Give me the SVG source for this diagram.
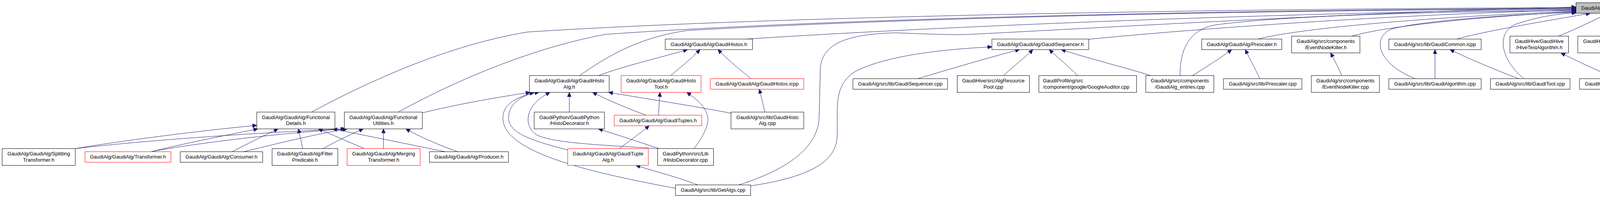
<svg xmlns="http://www.w3.org/2000/svg" width="6889" height="507" viewBox="0 0 6889 507">
<style>
.nd rect{fill:#fff;stroke:#000;stroke-width:1}
.rd rect{fill:#fff;stroke:#f00;stroke-width:1}
.mn rect{fill:#bfbfbf;stroke:#000;stroke-width:1}
text{font-family:"Liberation Sans",Arial,Helvetica,sans-serif;font-size:13px;fill:#000;text-anchor:middle}
text.l{text-anchor:start}
#edges path{fill:none;stroke:#191970;stroke-width:1;marker-end:url(#ah)}
</style>
<defs>
<marker id="ah" markerUnits="userSpaceOnUse" markerWidth="11" markerHeight="10" refX="11" refY="5" orient="auto" viewBox="0 0 11 10"><path d="M0,0 L11,5 L0,10 z" fill="#191970" stroke="#191970" stroke-width="1"/></marker>
</defs>
<rect x="0" y="0" width="6889" height="507" fill="#fff"/>
<g id="edges">
<path d="M1891,473.5 C2030,430 2095,370 2097,300 L2100,175 C2105,115 2160,88 2290,84 C2400,88 2450,90 2480,88 C2700,78 3500,30 4034.5,18"/>
<path d="M797.5,287 C950,205 1150,115 1350,82 C2000,40 3200,22 4034.5,19.5"/>
<path d="M1019.5,287 C1150,215 1350,125 1550,88 C2200,42 3300,25 4034.5,21"/>
<path d="M1484,193.5 C1560,140 1640,95 1760,78 C2400,42 3300,26 4034.5,22.5"/>
<path d="M1910,100 C2500,62 3400,30 4034.5,24"/>
<path d="M2787,100.5 C3100,70 3600,36 4034.5,25.5"/>
<path d="M3021,193.5 C3020,120 3050,75 3110,64 C3300,38 3700,30 4034.5,27"/>
<path d="M3220,100 C3350,68 3700,42 4034.5,28.5"/>
<path d="M3461,92.5 C3550,66 3800,42 4034.5,30"/>
<path d="M3623,201.5 C3530,165 3510,100 3560,75 C3650,50 3900,36 4034.5,31.5"/>
<path d="M3901,201.5 C3840,150 3830,85 3880,62 C3940,42 3990,35 4034.5,33"/>
<path d="M3729,100 C3800,80 3950,55 4071,34"/>
<path d="M3990,92.5 C4040,72 4080,52 4117,34"/>
<path d="M4155,92.5 L4155,34"/>
<path d="M4334,92.5 C4300,75 4240,55 4195,34"/>
<path d="M4563,100 C4450,75 4330,52 4240,34"/>
<path d="M4762,92.5 C4600,56 4420,38 4275.5,33"/>
<path d="M5033,100 C4800,56 4500,36 4275.5,31.5"/>
<path d="M5259,92.5 C5000,50 4600,33 4275.5,30"/>
<path d="M5465,92.5 C5100,46 4600,31 4275.5,28.5"/>
<path d="M5659,92.5 C5200,43 4700,29 4275.5,27"/>
<path d="M5902,100 C5400,46 4800,28 4275.5,25.5"/>
<path d="M6125,92.5 C5500,42 4900,27 4275.5,24"/>
<path d="M6317.5,85 C5700,42 5000,25 4275.5,22.5"/>
<path d="M6486.5,85 C5800,40 5000,23 4275.5,21"/>
<path d="M6728,92.5 C6300,52 5100,22 4275.5,18"/>
<path d="M6719,193.5 C6690,120 6660,80 6566,67 C6000,40 5000,22 4275.5,19.5"/>
<path d="M1532,193.5 C1600,168 1700,145 1760,127"/>
<path d="M1717,193.5 C1745,170 1770,150 1792,127"/>
<path d="M1922.7,201.5 C1890,175 1860,150 1838,127"/>
<path d="M1457.4,287 L1457.4,236.5"/>
<path d="M1687.5,380.5 C1640,365 1580,345 1532,330"/>
<path d="M1776.6,380.5 C1800,350 1815,320 1812,300 C1808,278 1790,258 1758,236.5"/>
<path d="M1683.5,380.5 C1560,372 1420,368 1375,346 C1340,325 1340,270 1408,236.5"/>
<path d="M1654,295 C1600,275 1560,258 1517,236.5"/>
<path d="M1685.6,295 L1689.5,236.5"/>
<path d="M1585.7,380.5 C1610,362 1640,340 1662,322"/>
<path d="M1453.5,384 C1360,360 1300,340 1302,300 C1303,270 1325,250 1367,236.5"/>
<path d="M1729.2,482 C1500,440 1300,390 1288,310 C1282,270 1320,245 1380,236.5"/>
<path d="M1786,473.5 C1740,455 1680,440 1628,423.5"/>
<path d="M1921.6,476 C2060,455 2140,420 2143,350 C2146,280 2130,215 2195,180 C2280,140 2420,126 2539.3,120"/>
<path d="M1957.8,287 C1953,265 1949,248 1944,228.5"/>
<path d="M1871.3,290 C1780,272 1650,252 1558,236.5"/>
<path d="M2350,201.5 C2420,180 2540,145 2610,127"/>
<path d="M2568.5,193.5 C2600,165 2630,142 2644,127"/>
<path d="M2759,193.5 C2730,165 2705,145 2686,127"/>
<path d="M2946,193.5 C2870,170 2780,148 2717,127"/>
<path d="M3053,193.5 C3090,170 3130,145 3153,127"/>
<path d="M3225.6,201.5 C3210,170 3198,148 3188,127"/>
<path d="M3434.8,193.5 C3425,170 3415,152 3406.5,135.5"/>
<path d="M3673.6,201.5 L3673.6,127"/>
<path d="M3888,201.5 C3830,180 3760,150 3712,127"/>
<path d="M4136,201.5 C4090,180 4040,158 3996,135.5"/>
<path d="M4400,193.5 L4393,135.5"/>
<path d="M4627.7,201.5 L4613.6,127"/>
<path d="M5524.5,193.5 L5524.5,135.5"/>
<path d="M6743.7,193.5 L6780,135.5"/>
<path d="M192.7,380.5 C300,362 500,336 657.3,321"/>
<path d="M192.7,380.5 C400,356 700,338 883,330"/>
<path d="M386.6,388.5 C460,370 560,350 660,330"/>
<path d="M386.6,388.5 C480,370 700,342 886,330"/>
<path d="M594,388.5 C630,370 680,345 712,330"/>
<path d="M623.6,388.5 C700,370 800,345 889,330"/>
<path d="M775,380.5 L764,330"/>
<path d="M827,380.5 C860,362 900,343 930,330"/>
<path d="M932.5,380.5 C890,362 850,345 815,330"/>
<path d="M981.7,380.5 L981.7,330"/>
<path d="M1139.7,388.5 C1050,370 950,350 852,330"/>
<path d="M1171,388.5 C1120,370 1070,348 1039,330"/>
<path d="M1081,289 C1180,265 1280,248 1357,236.5"/>
</g>
<g id="n_main" class="mn"><rect x="4034.5" y="7" width="241" height="27"/><text x="4155" y="24.5">GaudiAlg/GaudiAlg/GaudiAlgorithm.h</text></g>
<g id="n_gaudihistos_h" class="nd"><rect x="1703" y="100" width="223.5" height="27"/><text x="1814.75" y="117.5">GaudiAlg/GaudiAlg/GaudiHistos.h</text></g>
<g id="n_gaudisequencer_h" class="nd"><rect x="2539.3" y="100" width="247.8" height="27"/><text x="2663.2" y="117.5">GaudiAlg/GaudiAlg/GaudiSequencer.h</text></g>
<g id="n_prescaler_h" class="nd"><rect x="3076.4" y="100" width="204.9" height="27"/><text x="3178.85" y="117.5">GaudiAlg/GaudiAlg/Prescaler.h</text></g>
<g id="n_eventnodekiller_h" class="nd"><rect x="3306.5" y="92.5" width="174.9" height="43"/><text x="3393.95" y="110">GaudiAlg/src/components</text><text x="3393.95" y="125.5">/EventNodeKiller.h</text></g>
<g id="n_gaudicommon_icpp" class="nd"><rect x="3555.4" y="100" width="236.4" height="27"/><text x="3673.6" y="117.5">GaudiAlg/src/lib/GaudiCommon.icpp</text></g>
<g id="n_hivetestalgorithm_h" class="nd"><rect x="3865.4" y="92.5" width="150.1" height="43"/><text x="3940.45" y="110">GaudiHive/GaudiHive</text><text x="3940.45" y="125.5">/HiveTestAlgorithm.h</text></g>
<g id="n_avalanche" class="nd"><rect x="4039.2" y="92.5" width="231.6" height="43"/><text x="4155" y="110">GaudiHive/src/AvalancheScheduler</text><text x="4155" y="125.5">Svc.cpp</text></g>
<g id="n_contexteventcounter_h" class="nd"><rect x="4294.4" y="92.5" width="188.3" height="43"/><text x="4388.55" y="110">GaudiHive/src/ContextEvent</text><text x="4388.55" y="125.5">Counter.h</text></g>
<g id="n_cpucruncher_h" class="nd"><rect x="4507.5" y="100" width="202.3" height="27"/><text x="4608.65" y="117.5">GaudiHive/src/CPUCruncher.h</text></g>
<g id="n_fetchdatafromfile" class="nd"><rect x="4734.2" y="92.5" width="201.3" height="43"/><text x="4834.85" y="110">GaudiHive/src/FetchDataFrom</text><text x="4834.85" y="125.5">File.cpp</text></g>
<g id="n_hivereadalgorithm" class="nd"><rect x="4959.5" y="100" width="250" height="27"/><text x="5084.5" y="117.5">GaudiHive/src/HiveReadAlgorithm.cpp</text></g>
<g id="n_ioboundalg" class="nd"><rect x="5233.2" y="92.5" width="182.4" height="43"/><text x="5324.4" y="110">GaudiHive/src/IOBoundAlg</text><text x="5324.4" y="125.5">SchedulerSvc.cpp</text></g>
<g id="n_recordoutputstream_h" class="rd"><rect x="5439.2" y="92.5" width="170.6" height="43"/><text x="5524.5" y="110">GaudiMP/src/component</text><text x="5524.5" y="125.5">/RecordOutputStream.h</text></g>
<g id="n_replayoutputstream_h" class="rd"><rect x="5633.4" y="92.5" width="169.1" height="43"/><text x="5717.95" y="110">GaudiMP/src/component</text><text x="5717.95" y="125.5">/ReplayOutputStream.h</text></g>
<g id="n_gaudiparallelizer_h" class="rd"><rect x="5826.5" y="100" width="244.1" height="27"/><text x="5948.55" y="117.5">GaudiMTTools/src/GaudiParallelizer.h</text></g>
<g id="n_intelprofile_h" class="rd"><rect x="6094.3" y="92.5" width="199.4" height="43"/><text class="l" x="6104.8" y="110">GaudiProfiling/src</text><text class="l" x="6104.8" y="125.5">/component/intel/IntelProfile.h</text></g>
<g id="n_jemallocprofile_h" class="rd"><rect x="6317.4" y="84.5" width="144.9" height="59"/><text class="l" x="6327.4" y="102">GaudiProfiling/src</text><text x="6389.85" y="117.5">/component/jemalloc</text><text x="6389.85" y="133">/JemallocProfile.h</text></g>
<g id="n_callgrindprofile_h" class="rd"><rect x="6486.3" y="84.5" width="143.4" height="59"/><text class="l" x="6497.7" y="102">GaudiProfiling/src</text><text x="6558" y="117.5">/component/valgrind</text><text x="6558" y="133">/CallgrindProfile.h</text></g>
<g id="n_algdecorators_h" class="nd"><rect x="6705.5" y="92.5" width="179.6" height="43"/><text x="6795.3" y="110">GaudiPython/GaudiPython</text><text x="6795.3" y="125.5">/AlgDecorators.h</text></g>
<g id="n_gaudihistoalg_h" class="nd"><rect x="1355.3" y="193.5" width="204.2" height="43"/><text x="1457.4" y="211">GaudiAlg/GaudiAlg/GaudiHisto</text><text x="1457.4" y="226.5">Alg.h</text></g>
<g id="n_gaudihistotool_h" class="rd"><rect x="1590.2" y="193.5" width="204.5" height="43"/><text x="1692.45" y="211">GaudiAlg/GaudiAlg/GaudiHisto</text><text x="1692.45" y="226.5">Tool.h</text></g>
<g id="n_gaudihistos_icpp" class="rd"><rect x="1818.4" y="201.5" width="239.3" height="27"/><text x="1938.05" y="219">GaudiAlg/GaudiAlg/GaudiHistos.icpp</text></g>
<g id="n_gaudisequencer_cpp" class="nd"><rect x="2183.5" y="201.5" width="242.2" height="27"/><text x="2304.6" y="219">GaudiAlg/src/lib/GaudiSequencer.cpp</text></g>
<g id="n_algresourcepool" class="nd"><rect x="2450.5" y="193.5" width="185" height="43"/><text x="2543" y="211">GaudiHive/src/AlgResource</text><text x="2543" y="226.5">Pool.cpp</text></g>
<g id="n_googleauditor" class="nd"><rect x="2659.5" y="193.5" width="250.1" height="43"/><text class="l" x="2670" y="211">GaudiProfiling/src</text><text class="l" x="2670" y="226.5">/component/google/GoogleAuditor.cpp</text></g>
<g id="n_gaudialg_entries" class="nd"><rect x="2933.2" y="193.5" width="174.3" height="43"/><text x="3020.35" y="211">GaudiAlg/src/components</text><text x="3020.35" y="226.5">/GaudiAlg_entries.cpp</text></g>
<g id="n_prescaler_cpp" class="nd"><rect x="3132.2" y="201.5" width="200.5" height="27"/><text x="3232.45" y="219">GaudiAlg/src/lib/Prescaler.cpp</text></g>
<g id="n_eventnodekiller_cpp" class="nd"><rect x="3357.1" y="193.5" width="174.2" height="43"/><text x="3444.2" y="211">GaudiAlg/src/components</text><text x="3444.2" y="226.5">/EventNodeKiller.cpp</text></g>
<g id="n_gaudialgorithm_cpp" class="nd"><rect x="3555.4" y="201.5" width="236.4" height="27"/><text x="3673.6" y="219">GaudiAlg/src/lib/GaudiAlgorithm.cpp</text></g>
<g id="n_gauditool_cpp" class="nd"><rect x="3815.4" y="201.5" width="203.8" height="27"/><text x="3917.3" y="219">GaudiAlg/src/lib/GaudiTool.cpp</text></g>
<g id="n_hivetestalgorithm_cpp" class="nd"><rect x="4043.3" y="201.5" width="242.3" height="27"/><text x="4164.45" y="219">GaudiHive/src/HiveTestAlgorithm.cpp</text></g>
<g id="n_contexteventcounter_cpp" class="nd"><rect x="4309.2" y="193.5" width="188.3" height="43"/><text x="4403.35" y="211">GaudiHive/src/ContextEvent</text><text x="4403.35" y="226.5">Counter.cpp</text></g>
<g id="n_cpucruncher_cpp" class="nd"><rect x="4521.6" y="201.5" width="216" height="27"/><text x="4629.6" y="219">GaudiHive/src/CPUCruncher.cpp</text></g>
<g id="n_recordoutputstream_cpp" class="nd"><rect x="5435.5" y="193.5" width="178" height="43"/><text x="5524.5" y="211">GaudiMP/src/component</text><text x="5524.5" y="226.5">/RecordOutputStream.cpp</text></g>
<g id="n_algdecorators_cpp" class="nd"><rect x="6659.3" y="193.5" width="143.3" height="43"/><text x="6730.95" y="211">GaudiPython/src/Lib</text><text x="6730.95" y="226.5">/AlgDecorators.cpp</text></g>
<g id="n_functionaldetails_h" class="nd"><rect x="657.3" y="287" width="200.1" height="43"/><text x="757.35" y="304.5">GaudiAlg/GaudiAlg/Functional</text><text x="757.35" y="320">Details.h</text></g>
<g id="n_functionalutilities_h" class="nd"><rect x="881.5" y="287" width="199.7" height="43"/><text x="981.35" y="304.5">GaudiAlg/GaudiAlg/Functional</text><text x="981.35" y="320">Utilities.h</text></g>
<g id="n_histodecorator_h" class="nd"><rect x="1367.5" y="287" width="179.8" height="43"/><text x="1457.4" y="304.5">GaudiPython/GaudiPython</text><text x="1457.4" y="320">/HistoDecorator.h</text></g>
<g id="n_gaudituples_h" class="rd"><rect x="1572.4" y="295" width="224.2" height="27"/><text x="1684.5" y="312.5">GaudiAlg/GaudiAlg/GaudiTuples.h</text></g>
<g id="n_gaudihistoalg_cpp" class="nd"><rect x="1871.3" y="287" width="186.4" height="43"/><text x="1964.5" y="304.5">GaudiAlg/src/lib/GaudiHisto</text><text x="1964.5" y="320">Alg.cpp</text></g>
<g id="n_splittingtransformer_h" class="nd"><rect x="5.5" y="380.5" width="187.2" height="43"/><text x="99.1" y="398">GaudiAlg/GaudiAlg/Splitting</text><text x="99.1" y="413.5">Transformer.h</text></g>
<g id="n_transformer_h" class="rd"><rect x="217.5" y="388.5" width="220.1" height="27"/><text x="327.55" y="406">GaudiAlg/GaudiAlg/Transformer.h</text></g>
<g id="n_consumer_h" class="nd"><rect x="461.3" y="388.5" width="211.2" height="27"/><text x="566.9" y="406">GaudiAlg/GaudiAlg/Consumer.h</text></g>
<g id="n_filterpredicate_h" class="nd"><rect x="696.5" y="380.5" width="168.3" height="43"/><text x="780.65" y="398">GaudiAlg/GaudiAlg/Filter</text><text x="780.65" y="413.5">Predicate.h</text></g>
<g id="n_mergingtransformer_h" class="rd"><rect x="888.5" y="380.5" width="187.2" height="43"/><text x="982.1" y="398">GaudiAlg/GaudiAlg/Merging</text><text x="982.1" y="413.5">Transformer.h</text></g>
<g id="n_producer_h" class="nd"><rect x="1099.3" y="388.5" width="202.4" height="27"/><text x="1200.5" y="406">GaudiAlg/GaudiAlg/Producer.h</text></g>
<g id="n_gaudituplealg_h" class="rd"><rect x="1453.3" y="380.5" width="206.4" height="43"/><text x="1556.5" y="398">GaudiAlg/GaudiAlg/GaudiTuple</text><text x="1556.5" y="413.5">Alg.h</text></g>
<g id="n_histodecorator_cpp" class="nd"><rect x="1683.4" y="380.5" width="143.1" height="43"/><text x="1754.95" y="398">GaudiPython/src/Lib</text><text x="1754.95" y="413.5">/HistoDecorator.cpp</text></g>
<g id="n_getalgs_cpp" class="nd"><rect x="1729.2" y="473.5" width="192.4" height="27"/><text x="1825.4" y="491">GaudiAlg/src/lib/GetAlgs.cpp</text></g>
</svg>
